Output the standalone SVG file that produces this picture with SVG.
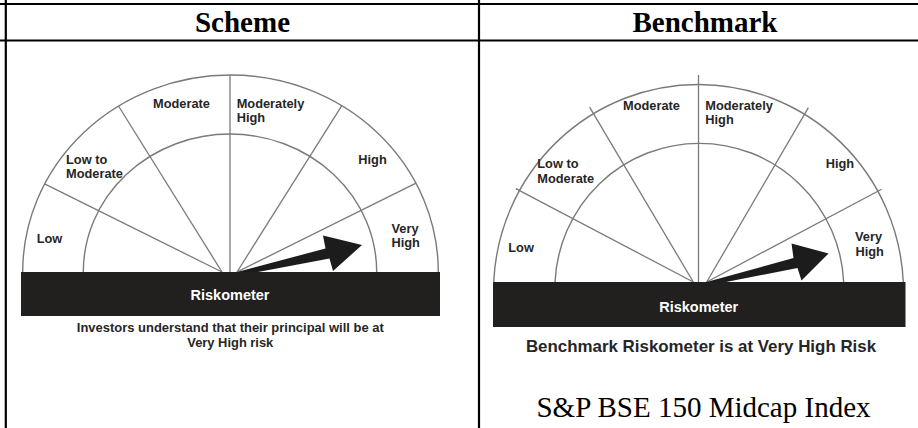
<svg xmlns="http://www.w3.org/2000/svg" width="918" height="428" viewBox="0 0 918 428">
<style>
.rule{stroke:#000;stroke-width:2.2;fill:none}
.hdr{font-family:"Liberation Serif","Times New Roman",serif;font-weight:bold;font-size:29px;fill:#000;text-anchor:middle}
.arc{fill:none;stroke:#7a7a7a;stroke-width:1.4}
.div{stroke:#7a7a7a;stroke-width:1.3}
.lbl{font-family:"Liberation Sans",Arial,sans-serif;font-weight:bold;font-size:12.8px;fill:#262626}
.bar{fill:#221f1f}
.bartxt{font-family:"Liberation Sans",Arial,sans-serif;font-weight:bold;font-size:14.5px;fill:#fff;text-anchor:middle}
.note{font-family:"Liberation Sans",Arial,sans-serif;font-weight:bold;fill:#262626;text-anchor:middle}
.ptr{fill:#1c1c1c}
.idx{font-family:"Liberation Serif","Times New Roman",serif;font-size:29px;fill:#000;text-anchor:middle}
</style>
<rect width="918" height="428" fill="#fff"/>
<g id="table">
<line class="rule" x1="0" y1="4" x2="918" y2="4"/>
<line class="rule" x1="0" y1="40.5" x2="918" y2="40.5"/>
<line class="rule" x1="5.8" y1="0" x2="5.8" y2="428"/>
<line class="rule" x1="479" y1="0" x2="479" y2="428"/>
<text class="hdr" x="242.5" y="31.5">Scheme</text>
<text class="hdr" x="705" y="31.5">Benchmark</text>
</g>
<g id="scheme-riskometer">
<path class="arc" d="M22.7 272 A207.8 197 0 0 1 438.3 272"/>
<path class="arc" d="M83.3 272 A146.7 138 0 0 1 376.7 272"/>
<g id="scheme-dividers">
<line class="div" x1="222" y1="272" x2="44.6" y2="183.8"/>
<line class="div" x1="222" y1="272" x2="118.5" y2="106"/>
<line class="div" x1="230" y1="272" x2="230" y2="75"/>
<line class="div" x1="237" y1="272" x2="341.8" y2="105.6"/>
<line class="div" x1="237" y1="272" x2="416" y2="183.1"/>
</g>
<text class="lbl" x="36.7" y="243.3">Low</text>
<text class="lbl" x="66" y="164">Low to</text>
<text class="lbl" x="66" y="177.7">Moderate</text>
<text class="lbl" x="153" y="108.3">Moderate</text>
<text class="lbl" x="236.7" y="108.3">Moderately</text>
<text class="lbl" x="236.7" y="122.3">High</text>
<text class="lbl" x="358.3" y="164">High</text>
<text class="lbl" x="391.5" y="233">Very</text>
<text class="lbl" x="391.5" y="247">High</text>
<polygon class="ptr" points="237,272 325.5,248.5 323,235.5 362,245 333,271 329.5,258.5 258,272"/>
<rect class="bar" x="21" y="272" width="419" height="44"/>
<text class="bartxt" x="230" y="300">Riskometer</text>
<text class="note" font-size="12.4" x="230.3" y="332.3" textLength="307" lengthAdjust="spacingAndGlyphs">Investors understand that their principal will be at</text>
<text class="note" font-size="12.4" x="230.3" y="346.5" textLength="86" lengthAdjust="spacingAndGlyphs">Very High risk</text>
</g>
<g id="benchmark-riskometer">
<path class="arc" d="M493.7 282.3 A205 207 0 0 1 903.3 282.3"/>
<path class="arc" d="M555 282.3 A144.5 145.6 0 0 1 843.7 282.3"/>
<g id="benchmark-dividers">
<line class="div" x1="693.3" y1="282" x2="515.8" y2="188.6"/>
<line class="div" x1="693.3" y1="282" x2="589.6" y2="107.1"/>
<line class="div" x1="698.5" y1="282" x2="698.5" y2="75"/>
<line class="div" x1="706.7" y1="282" x2="808.4" y2="107.6"/>
<line class="div" x1="706.7" y1="282" x2="881.6" y2="189.2"/>
</g>
<text class="lbl" x="508.3" y="251.7">Low</text>
<text class="lbl" x="537.3" y="167.7">Low to</text>
<text class="lbl" x="537.3" y="182.7">Moderate</text>
<text class="lbl" x="623" y="110">Moderate</text>
<text class="lbl" x="705.3" y="110">Moderately</text>
<text class="lbl" x="705.3" y="124.3">High</text>
<text class="lbl" x="825.7" y="168.3">High</text>
<text class="lbl" x="855" y="241">Very</text>
<text class="lbl" x="855.5" y="255.7">High</text>
<polygon class="ptr" points="706.5,282 793.5,258 791.5,243.5 828.5,253.5 801.5,280.5 797.5,268 726,282"/>
<rect class="bar" x="493" y="282" width="412.5" height="45"/>
<text class="bartxt" x="698.7" y="312.3">Riskometer</text>
<text class="note" font-size="16.9" x="701" y="351.5">Benchmark Riskometer is at Very High Risk</text>
<text class="idx" x="703.5" y="416.5">S&amp;P BSE 150 Midcap Index</text>
</g>
</svg>
